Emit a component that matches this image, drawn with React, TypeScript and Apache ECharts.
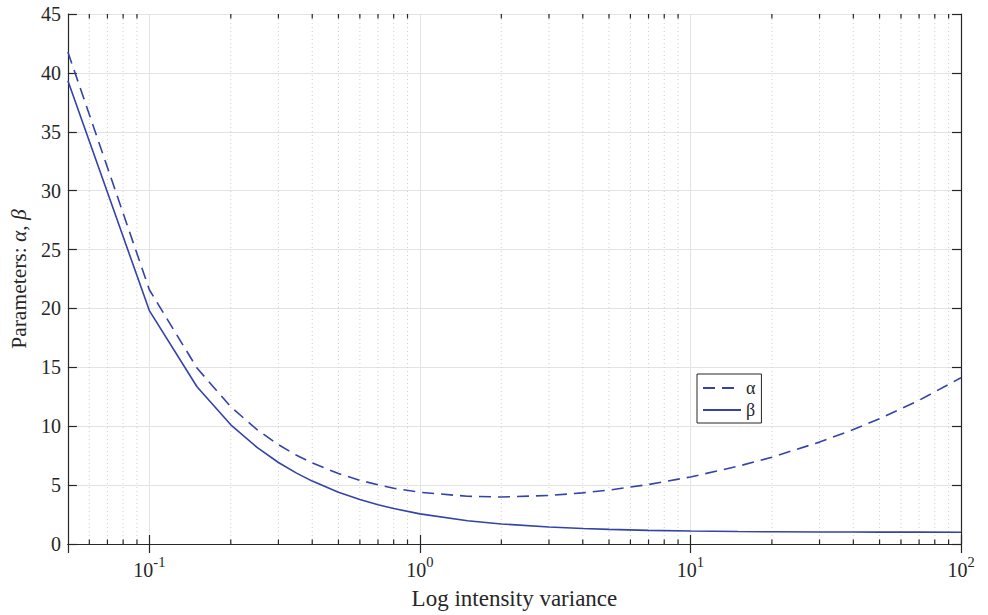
import React, { useEffect, useRef } from 'react';
import * as echarts from 'echarts';

const variance = [0.05, 0.1, 0.15, 0.2, 0.25, 0.3, 0.35, 0.4, 0.5, 0.6, 0.7, 0.8, 1, 1.5, 2, 3, 4, 5, 7, 10, 15, 20, 30, 40, 50, 70, 100];
const alphaValues = [41.77, 21.59, 14.94, 11.65, 9.71, 8.43, 7.54, 6.88, 5.98, 5.41, 5.02, 4.74, 4.39, 4.05, 3.99, 4.12, 4.34, 4.58, 5.05, 5.69, 6.6, 7.37, 8.65, 9.72, 10.64, 12.2, 14.12];
const betaValues = [39.34, 19.82, 13.35, 10.12, 8.2, 6.92, 6.02, 5.34, 4.4, 3.78, 3.34, 3.01, 2.56, 1.98, 1.7, 1.44, 1.31, 1.24, 1.16, 1.1, 1.06, 1.04, 1.02, 1.02, 1.01, 1.01, 1.0];
const minorTickValues = [0.06, 0.07, 0.08, 0.09, 0.2, 0.3, 0.4, 0.5, 0.6, 0.7, 0.8, 0.9, 2, 3, 4, 5, 6, 7, 8, 9, 20, 30, 40, 50, 60, 70, 80, 90];
const seriesNames = ['α', 'β'];
const xName = 'Log intensity variance';
const yMin = 0;
const yMax = 45;
const yStep = 5;

const FONT = 'Liberation Serif';
const LINE_COLOR = '#3343a8';
const AXIS_COLOR = '#262626';
const GRID_COLOR = '#e3e3e3';

export default function App() {
  const ref = useRef<HTMLDivElement>(null);
  useEffect(() => {
    if (!ref.current) return;
    const chart = echarts.init(ref.current, null, { renderer: 'svg' });
    const xLabelFormatter = (v: number) => {
      const e = Math.log10(v);
      if (Math.abs(e - Math.round(e)) > 1e-6) return '';
      return `{b|10}{s|${Math.round(e)}}`;
    };
    const baseX = {
      type: 'log',
      logBase: 10,
      min: 0.05,
      max: 100,
      axisLine: { show: true, lineStyle: { color: AXIS_COLOR, width: 1.2 } },
      axisTick: { show: true, inside: true, length: 9, lineStyle: { color: AXIS_COLOR, width: 1.2 } },
    };
    const baseY = {
      type: 'value',
      min: yMin,
      max: yMax,
      interval: yStep,
      axisLine: { show: true, lineStyle: { color: AXIS_COLOR, width: 1.2 } },
      axisTick: { show: true, inside: true, length: 9, lineStyle: { color: AXIS_COLOR, width: 1.2 } },
    };
    chart.setOption({
      animation: false,
      backgroundColor: '#ffffff',
      textStyle: { fontFamily: FONT },
      grid: { left: 67, right: 27, top: 14, bottom: 69, containLabel: false },
      xAxis: [
        {
          ...baseX,
          position: 'bottom',
          name: xName,
          nameLocation: 'middle',
          nameGap: 43,
          nameTextStyle: { fontFamily: FONT, fontSize: 23, color: AXIS_COLOR },
          axisLabel: {
            show: true,
            margin: 10,
            formatter: xLabelFormatter,
            showMinLabel: false,
            rich: {
              b: { fontFamily: FONT, fontSize: 20, color: AXIS_COLOR, verticalAlign: 'bottom', lineHeight: 26 },
              s: { fontFamily: FONT, fontSize: 14.5, color: AXIS_COLOR, verticalAlign: 'top', lineHeight: 26, padding: [0, 0, 10, 0] },
            },
          },
          splitLine: { show: true, lineStyle: { color: GRID_COLOR, width: 1 } },
        },
        {
          ...baseX,
          position: 'top',
          axisLabel: { show: false },
          splitLine: { show: false },
        },
      ],
      yAxis: [
        {
          ...baseY,
          position: 'left',
          name: '{n|Parameters: }{i|α}{n|, }{i|β}',
          nameLocation: 'middle',
          nameGap: 33,
          nameRotate: 90,
          nameTextStyle: {
            fontFamily: FONT,
            rich: {
              n: { fontFamily: FONT, fontSize: 21.5, color: AXIS_COLOR },
              i: { fontFamily: FONT, fontSize: 21.5, fontStyle: 'italic', color: AXIS_COLOR },
            },
          },
          axisLabel: { show: true, margin: 7, fontFamily: FONT, fontSize: 20, color: AXIS_COLOR },
          splitLine: { show: true, lineStyle: { color: GRID_COLOR, width: 1 } },
        },
        {
          ...baseY,
          position: 'right',
          axisLabel: { show: false },
          splitLine: { show: false },
        },
      ],
      legend: {
        show: true,
        data: seriesNames,
        orient: 'vertical',
        left: 697,
        top: 374,
        itemWidth: 38,
        itemHeight: 14,
        itemGap: 4,
        padding: [5, 6, 4, 5],
        borderColor: AXIS_COLOR,
        borderWidth: 1,
        borderRadius: 0,
        backgroundColor: '#ffffff',
        itemStyle: { opacity: 0 },
        textStyle: { fontFamily: FONT, fontSize: 18, color: AXIS_COLOR },
      },
      series: [
        {
          type: 'custom',
          name: 'minor',
          xAxisIndex: 0,
          yAxisIndex: 0,
          silent: true,
          z: 1,
          data: minorTickValues.map((v) => [v]),
          encode: { x: 0 },
          renderItem: (params: any, api: any) => {
            const xv = api.value(0);
            const top = api.coord([xv, yMax]);
            const bot = api.coord([xv, yMin]);
            return {
              type: 'group',
              children: [
                {
                  type: 'line',
                  shape: { x1: bot[0], y1: bot[1], x2: top[0], y2: top[1] },
                  style: { stroke: '#cfcfcf', lineWidth: 1, lineDash: [1, 3] },
                },
                {
                  type: 'line',
                  shape: { x1: bot[0], y1: bot[1], x2: bot[0], y2: bot[1] - 4.5 },
                  style: { stroke: AXIS_COLOR, lineWidth: 1.2 },
                },
                {
                  type: 'line',
                  shape: { x1: top[0], y1: top[1], x2: top[0], y2: top[1] + 4.5 },
                  style: { stroke: AXIS_COLOR, lineWidth: 1.2 },
                },
              ],
            };
          },
        },
        {
          type: 'line',
          name: seriesNames[0],
          xAxisIndex: 0,
          yAxisIndex: 0,
          z: 3,
          symbol: 'none',
          showSymbol: false,
          data: variance.map((x, i) => [x, alphaValues[i]]),
          lineStyle: { color: LINE_COLOR, width: 1.6, type: [12, 7] },
          itemStyle: { color: LINE_COLOR },
        },
        {
          type: 'line',
          name: seriesNames[1],
          xAxisIndex: 0,
          yAxisIndex: 0,
          z: 3,
          symbol: 'none',
          showSymbol: false,
          data: variance.map((x, i) => [x, betaValues[i]]),
          lineStyle: { color: LINE_COLOR, width: 1.6, type: 'solid' },
          itemStyle: { color: LINE_COLOR },
        },
      ],
    });
    return () => chart.dispose();
  }, []);
  return (
    <div
      ref={ref}
      style={{ position: 'fixed', left: 0, top: 0, width: 988, height: 615, background: '#fff' }}
    />
  );
}
